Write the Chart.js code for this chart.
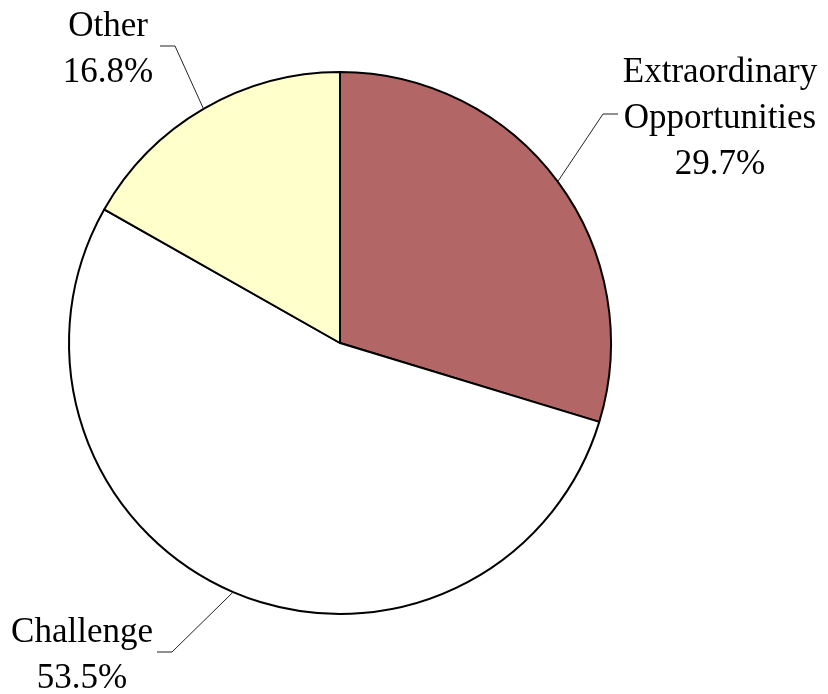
<!DOCTYPE html>
<html lang="en">
<head>
    <meta charset="UTF-8">
    <title>Pie Chart</title>
    <script src="https://cdn.jsdelivr.net/npm/chart.js"></script>
    <style>
        html, body {
            margin: 0;
            padding: 0;
            background: #ffffff;
        }
        .chart-container {
            position: relative;
            width: 828px;
            height: 694px;
        }
    </style>
</head>
<body>
    <div class="chart-container">
        <canvas id="pieChart"></canvas>
    </div>
    <script>
        // chart data
        const categories = [['Extraordinary', 'Opportunities'], ['Challenge'], ['Other']];
        const shares = [29.7, 53.5, 16.8];
        const sliceColors = ['#B36666', '#FFFFFF', '#FFFFCC'];

        // where each label sits (elbow of leader line, end of line, text centre, first baseline)
        const labelSpots = [
            { elbow: [603, 114], end: [618, 114], tx: 720, ty: 82 },
            { elbow: [172, 652], end: [157, 652], tx: 82, ty: 642 },
            { elbow: [175, 46], end: [160, 46], tx: 108, ty: 36 }
        ];

        const leaderLabels = {
            id: 'leaderLabels',
            afterDatasetsDraw(chart) {
                const ctx = chart.ctx;
                const arcs = chart.getDatasetMeta(0).data;
                ctx.save();
                ctx.font = "35px 'Liberation Serif', 'Times New Roman', serif";
                ctx.fillStyle = '#000';
                ctx.textAlign = 'center';
                ctx.textBaseline = 'alphabetic';
                arcs.forEach((arc, i) => {
                    const p = arc.getProps(['x', 'y', 'startAngle', 'endAngle', 'outerRadius'], true);
                    const mid = (p.startAngle + p.endAngle) / 2;
                    const sx = p.x + p.outerRadius * Math.cos(mid);
                    const sy = p.y + p.outerRadius * Math.sin(mid);
                    const spot = labelSpots[i];

                    ctx.strokeStyle = '#222';
                    ctx.lineWidth = 1;
                    ctx.beginPath();
                    ctx.moveTo(sx, sy);
                    ctx.lineTo(spot.elbow[0], spot.elbow[1]);
                    ctx.lineTo(spot.end[0], spot.end[1]);
                    ctx.stroke();

                    const lines = categories[i].concat([shares[i].toFixed(1) + '%']);
                    lines.forEach((txt, k) => {
                        ctx.fillText(txt, spot.tx, spot.ty + k * 46);
                    });
                });
                ctx.restore();
            }
        };

        new Chart(document.getElementById('pieChart').getContext('2d'), {
            type: 'pie',
            data: {
                labels: categories.map(c => c.join(' ')),
                datasets: [{
                    data: shares,
                    backgroundColor: sliceColors,
                    borderColor: '#000000',
                    borderWidth: 2
                }]
            },
            options: {
                responsive: true,
                maintainAspectRatio: false,
                animation: false,
                radius: 271,
                layout: {
                    padding: { left: 0, right: 148, top: 0, bottom: 8 }
                },
                plugins: {
                    legend: { display: false },
                    tooltip: { enabled: false }
                }
            },
            plugins: [leaderLabels]
        });
    </script>
</body>
</html>
